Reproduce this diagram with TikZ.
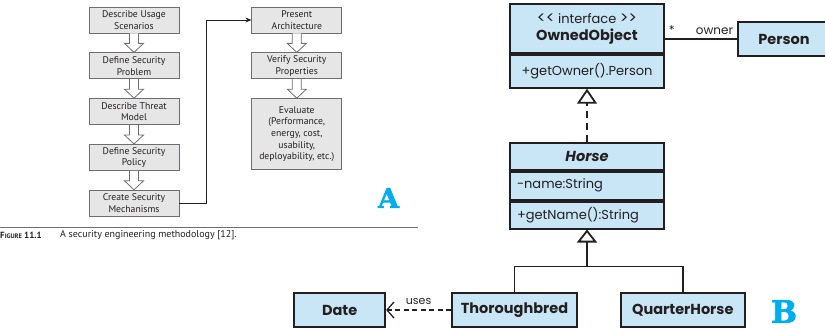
\documentclass[tikz,border=0pt]{standalone}
\usepackage{fontspec}
\setmainfont{PT Sans}
\newfontfamily\umlfont{Poppins}
\newfontfamily\letterfont[BoldFeatures={FakeBold=2}]{DejaVu Serif}
\usetikzlibrary{arrows.meta,positioning,calc}

\definecolor{boxgray}{HTML}{E6E6E6}
\definecolor{linegray}{HTML}{6D6E71}
\definecolor{umlblue}{HTML}{C8E6F6}
\definecolor{inkdark}{HTML}{231F20}
\definecolor{tagblue}{HTML}{00AEEF}

\newcommand{\guil}[1]{{\fontsize{16}{16}\selectfont #1\kern0pt #1}}

\begin{document}
\begin{tikzpicture}[
    x=1pt, y=-1pt,
    >={Stealth[length=6pt,width=5pt]},
    node distance=19pt and 72pt,
    font=\fontsize{9.7}{11.7}\selectfont,
    text=inkdark,
    stepbox/.style={
      draw=linegray,
      fill=boxgray,
      line width=0.8pt,
      minimum width=90pt,
      minimum height=26pt,
      inner sep=1pt,
      align=center
    },
    blockarrow/.style={draw=linegray, fill=white, line width=0.8pt},
    umlbox/.style={
      draw=inkdark,
      fill=umlblue,
      line width=1.8pt,
      minimum height=34pt,
      inner sep=0pt,
      font=\umlfont\bfseries\fontsize{14.5}{17}\selectfont
    },
    umlpart/.style={
      umlbox,
      minimum width=154pt,
      font=\umlfont\fontsize{13}{16}\selectfont
    },
    umlline/.style={draw=inkdark, line width=1.8pt},
    tag/.style={text=tagblue, inner sep=0pt}
    ]

    \useasboundingbox (0,0) rectangle (825,329);

    % methodology flow (A)
    \node [stepbox] (B1) at (134,20) {Describe Usage\\Scenarios};
    \node [stepbox] (B2) [below = of B1] {Define Security\\Problem};
    \node [stepbox] (B3) [below = of B2] {Describe Threat\\Model};
    \node [stepbox] (B4) [below = of B3] {Define Security\\Policy};
    \node [stepbox] (B5) [below = of B4] {Create Security\\Mechanisms};
    \node [stepbox] (R1) [right = of B1] {Present\\Architecture};
    \node [stepbox] (R2) [below = of R1] {Verify Security\\Properties};
    \node [stepbox] (R3) [below = of R2, minimum height=71pt] {Evaluate\\(Performance,\\energy, cost,\\usability,\\deployability, etc.)};

    \foreach \a/\b in {B1/B2,B2/B3,B3/B4,B4/B5,R1/R2,R2/R3}
      \draw[blockarrow] ($(\a.south)+(-4.5,0)$) -- ++(0,10) -- ++(-5,0) -- (\b.north)
        -- ($(\a.south)+(9.5,10)$) -- ++(-5,0) -- ($(\a.south)+(4.5,0)$);

    \draw[->, inkdark, line width=0.8pt] (B5.east) -- ++(27,0) |- (R1.west);

    \draw[linegray, line width=0.8pt] (0,227) -- (418,227);
    \node [anchor=west, inner sep=0pt] (figlabel) at (0,235)
      {\fontsize{9}{10}\selectfont\bfseries F{\fontsize{6.5}{7}\selectfont IGURE} 11.1};
    \node [anchor=west, inner sep=0pt] (figcaption) at (60,235)
      {\fontsize{10}{12}\selectfont A security engineering methodology [12].};

    \node [tag, font=\letterfont\bfseries\fontsize{27}{27}\selectfont] (tagA) at (388.5,198) {A};

    % class diagram (B)
    \node [umlpart, minimum height=49pt, align=center] (owned) at (587,28.5)
      {\guil{<} interface \guil{>}\\[1pt]{\bfseries\fontsize{14.5}{17}\selectfont OwnedObject}};
    \node [umlpart, minimum height=33pt] (ownedops) [below = 0pt of owned] {+getOwner().Person};
    \node [umlbox, minimum width=92pt] (person) at (784,39) {Person};

    \node [umlpart, minimum height=27pt] (horse) at (587,156.5)
      {\bfseries\itshape\fontsize{14.5}{17}\selectfont Horse};
    \node [umlpart, minimum height=28pt, text width=140pt, inner xsep=7pt, align=left]
      (horseattr) [below = 0pt of horse] {-name:String};
    \node [umlpart, minimum height=27pt, text width=140pt, inner xsep=7pt, align=left]
      (horseops) [below = 0pt of horseattr] {+getName():String};

    \node [umlbox, minimum width=125pt] (thorough) at (514.5,310) {Thoroughbred};
    \node [umlbox, minimum width=124pt] (quarter) [right = 42pt of thorough] {QuarterHorse};
    \node [umlbox, minimum width=91pt] (date) [left = 65pt of thorough] {Date};

    \node [tag, font=\letterfont\bfseries\fontsize{31}{31}\selectfont] (tagB) at (784,311.5) {B};

    \draw[umlline, dash pattern=on 7pt off 5pt, -{Triangle[open,length=15pt,width=20pt]}]
      (horse.north) -- (ownedops.south);

    \coordinate (fork) at ($(horseops.south)+(0,37)$);
    \draw[umlline] (thorough.north) |- (fork) -| (quarter.north);
    \draw[umlline, -{Triangle[open,length=13pt,width=20pt]}] (fork) -- (horseops.south);

    \draw[umlline, line width=1.3pt, dash pattern=on 5pt off 3.5pt,
      -{Straight Barb[length=7pt,width=16pt]}]
      (thorough.west) -- node[above=1pt, font=\umlfont\fontsize{11}{13}\selectfont] {uses} (date.east);

    \draw[umlline, line width=1.4pt] (owned.east |- person.west) --
      node[pos=0, above right, font=\umlfont\fontsize{12}{14}\selectfont] {*}
      node[pos=1, above left, font=\umlfont\fontsize{12}{14}\selectfont] {owner} (person.west);

  \end{tikzpicture}
\end{document}
